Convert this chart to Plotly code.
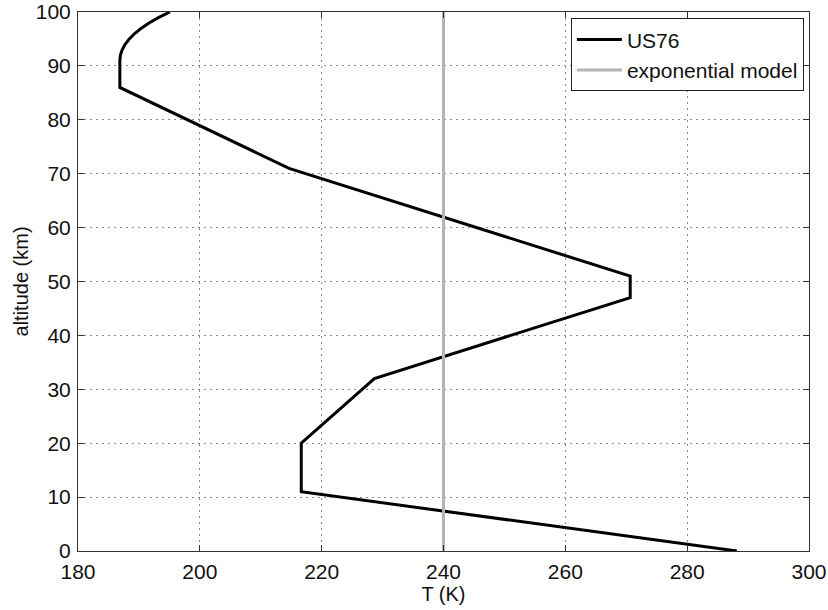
import plotly.graph_objects as go

# US76 standard atmosphere temperature profile
us76_T = [288.15, 216.65, 216.65, 228.65, 270.65, 270.65, 214.65, 186.87, 186.87,
          186.963, 187.252, 187.736, 188.418, 189.305, 190.404, 191.723, 193.277, 195.08]
us76_z = [0, 11, 20, 32, 47, 51, 71, 86, 91,
          92, 93, 94, 95, 96, 97, 98, 99, 100]

# exponential model (constant temperature)
exp_T = [240, 240]
exp_z = [0, 100]

x_ticks = [180, 200, 220, 240, 260, 280, 300]
y_ticks = [0, 10, 20, 30, 40, 50, 60, 70, 80, 90, 100]

FAM = "Liberation Sans, Arial, sans-serif"
tick_font = dict(family=FAM, size=21, color="#111")
title_font = dict(family=FAM, size=20, color="#111")

fig = go.Figure()
fig.add_trace(go.Scatter(x=us76_T, y=us76_z, mode="lines", name="US76",
                         line=dict(color="black", width=3)))
fig.add_trace(go.Scatter(x=exp_T, y=exp_z, mode="lines", name="exponential model",
                         line=dict(color="#b4b4b4", width=3)))

axis_common = dict(showline=True, linecolor="#333", linewidth=1, mirror="ticks",
                   ticks="inside", ticklen=6, tickcolor="#333",
                   showgrid=True, gridcolor="#8a8a8a", griddash="1.5px,4.5px", gridwidth=1,
                   zeroline=False, tickfont=tick_font, automargin=False,
                   ticklabeloverflow="allow")

fig.update_layout(
    width=828, height=610,
    margin=dict(l=78, r=19, t=12, b=59),
    paper_bgcolor="white", plot_bgcolor="white",
    font=title_font,
    xaxis=dict(range=[180, 300], tickvals=x_ticks, ticklabelstandoff=2,
               title=dict(text="T (K)", font=title_font, standoff=0),
               **axis_common),
    yaxis=dict(range=[0, 100], tickvals=y_ticks, ticklabelstandoff=2,
               **axis_common),
    legend=dict(x=0.993, y=0.988, xanchor="right", yanchor="top",
                bgcolor="white", bordercolor="#222", borderwidth=1,
                font=tick_font, tracegroupgap=0, itemwidth=45),
    showlegend=True,
    annotations=[dict(text="altitude (km)", textangle=-90, xref="paper", yref="paper",
                      x=-0.078, y=0.5, xanchor="center", yanchor="middle",
                      showarrow=False, font=title_font)],
)

fig.write_html("out.html")
